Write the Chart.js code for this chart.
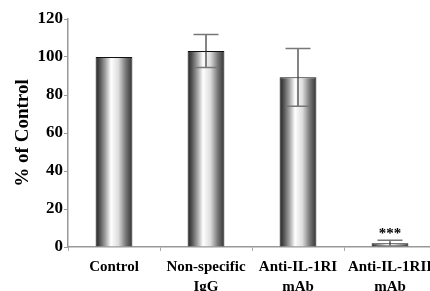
<!DOCTYPE html>
<html>
<head>
<meta charset="utf-8">
<script src="https://cdn.jsdelivr.net/npm/chart.js@4/dist/chart.umd.min.js"></script>
<style>
  html, body { margin: 0; padding: 0; background: #fff; }
  #wrap { width: 430px; height: 291px; overflow: hidden; position: relative; }
  #box { width: 440px; height: 300px; position: absolute; left: 0; top: 0; }
</style>
</head>
<body>
<div id="wrap"><div id="box"><canvas id="chart"></canvas></div></div>
<script>
// data
const categories = [['Control'], ['Non-specific', 'IgG'], ['Anti-IL-1RI', 'mAb'], ['Anti-IL-1RII', 'mAb']]
const values = [100, 103.2, 89.3, 2]
const errors = [0, 8.7, 15.2, 1.5]
const marks = ['', '', '', '***']
const yTicks = [0, 20, 40, 60, 80, 100, 120]

const serif = "'Liberation Serif', 'Times New Roman', serif"

function barGradient(ctx) {
  const chart = ctx.chart
  const xs = chart.scales.x
  if (!xs || !chart.chartArea) return '#999'
  const cx = xs.getPixelForValue(ctx.dataIndex)
  const w = (xs.width / categories.length) * 0.4
  const g = chart.ctx.createLinearGradient(cx - w / 2, 0, cx + w / 2, 0)
  g.addColorStop(0, '#222')
  g.addColorStop(0.12, '#555')
  g.addColorStop(0.28, '#aaa')
  g.addColorStop(0.42, '#fff')
  g.addColorStop(0.62, '#ddd')
  g.addColorStop(0.82, '#777')
  g.addColorStop(1, '#333')
  return g
}

const errorBars = {
  id: 'errorBars',
  afterDatasetsDraw(chart) {
    const c = chart.ctx
    const ys = chart.scales.y
    const meta = chart.getDatasetMeta(0)
    c.save()
    meta.data.forEach((bar, i) => {
      const x = bar.x
      const err = errors[i]
      const top = ys.getPixelForValue(values[i] + err)
      const bot = ys.getPixelForValue(values[i] - err)
      if (err > 0) {
        c.strokeStyle = '#333'
        c.lineWidth = 1.2
        c.beginPath()
        c.moveTo(x, top)
        c.lineTo(x, bot)
        c.stroke()
        c.strokeStyle = '#777'
        c.lineWidth = 1.5
        c.beginPath()
        c.moveTo(x - 12.5, top)
        c.lineTo(x + 12.5, top)
        c.moveTo(x - 12.5, bot)
        c.lineTo(x + 12.5, bot)
        c.stroke()
      }
      if (marks[i]) {
        c.fillStyle = '#000'
        c.font = 'bold 15px ' + serif
        c.textAlign = 'center'
        c.textBaseline = 'bottom'
        c.fillText(marks[i], x, top + 1)
      }
    })
    c.restore()
  }
}

new Chart(document.getElementById('chart').getContext('2d'), {
  type: 'bar',
  data: {
    labels: categories,
    datasets: [{
      data: values,
      backgroundColor: barGradient,
      borderColor: '#111',
      borderWidth: 1,
      borderSkipped: 'bottom',
      barPercentage: 0.4,
      categoryPercentage: 1
    }]
  },
  options: {
    responsive: true,
    maintainAspectRatio: false,
    animation: false,
    layout: { padding: { top: 19, right: 4, left: 0, bottom: 0 } },
    plugins: { legend: { display: false }, tooltip: { enabled: false } },
    scales: {
      x: {
        afterFit: s => { s.height = 53 },
        border: { color: '#999', width: 1.5 },
        grid: { drawOnChartArea: false, tickLength: 4, color: '#aaa' },
        ticks: {
          color: '#000',
          padding: 6,
          maxRotation: 0,
          autoSkip: false,
          font: { family: serif, size: 15, weight: 'bold', lineHeight: 1.35 }
        }
      },
      y: {
        min: 0,
        max: 120,
        afterFit: s => { s.width = 68 },
        afterBuildTicks: s => { s.ticks = yTicks.map(v => ({ value: v })) },
        border: { color: '#999', width: 1.5 },
        grid: { drawOnChartArea: false, tickLength: 4, color: '#999' },
        ticks: {
          color: '#000',
          padding: 1,
          font: { family: serif, size: 17, weight: 'bold' }
        },
        title: {
          display: true,
          text: '% of Control',
          color: '#000',
          padding: { top: 12, bottom: 0 },
          font: { family: serif, size: 19, weight: 'bold', lineHeight: 1.2 }
        }
      }
    }
  },
  plugins: [errorBars]
})
</script>
</body>
</html>
